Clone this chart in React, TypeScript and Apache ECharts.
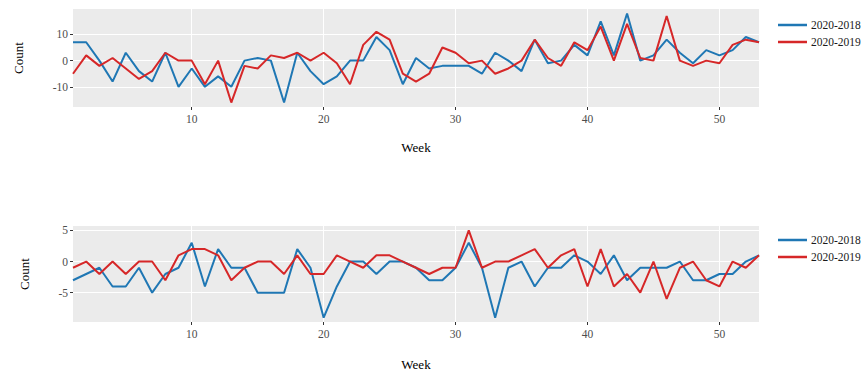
import React, { useEffect, useRef } from "react";
import * as echarts from "echarts";

const weeks: number[] = Array.from({ length: 53 }, (_, i) => i + 1);

const top2018: number[] = [7, 7, 0, -8, 3, -4, -8, 3, -10, -3, -10, -6, -10, 0, 1, 0, -16, 3, -4, -9, -6, 0, 0, 9, 4, -9, 1, -3, -2, -2, -2, -5, 3, 0, -4, 8, -1, 0, 6, 2, 15, 2, 18, 0, 2, 8, 3, -1, 4, 2, 4, 9, 7];
const top2019: number[] = [-5, 2, -2, 1, -3, -7, -4, 3, 0, 0, -9, 0, -16, -2, -3, 2, 1, 3, 0, 3, -1, -9, 6, 11, 8, -5, -8, -5, 5, 3, -1, 0, -5, -3, 0, 8, 1, -2, 7, 4, 13, 0, 14, 1, 0, 17, 0, -2, 0, -1, 6, 8, 7];

const bot2018: number[] = [-3, -2, -1, -4, -4, -1, -5, -2, -1, 3, -4, 2, -1, -1, -5, -5, -5, 2, -1, -9, -4, 0, 0, -2, 0, 0, -1, -3, -3, -1, 3, -1, -9, -1, 0, -4, -1, -1, 1, 0, -2, 1, -3, -1, -1, -1, 0, -3, -3, -2, -2, 0, 1];
const bot2019: number[] = [-1, 0, -2, 0, -2, 0, 0, -3, 1, 2, 2, 1, -3, -1, 0, 0, -2, 1, -2, -2, 1, 0, -1, 1, 1, 0, -1, -2, -1, -1, 5, -1, 0, 0, 1, 2, -1, 1, 2, -4, 2, -4, -2, -5, 0, -6, -1, 0, -3, -4, 0, -1, 1];

const xTicks: number[] = [10, 20, 30, 40, 50];
const topYTicks: number[] = [-10, 0, 10];
const botYTicks: number[] = [-5, 0, 5];
const seriesNames: string[] = ["2020-2018", "2020-2019"];

const BLUE = "#1f77b4";
const RED = "#d62728";
const FONT = "Liberation Serif";

function pairs(vals: number[]) {
  return weeks.map((w, i) => [w, vals[i]]);
}

export default function App() {
  const ref = useRef<HTMLDivElement>(null);
  useEffect(() => {
    document.body.style.margin = "0";
    const chart = echarts.init(ref.current!, null, { renderer: "svg" });
    const xAxisBase = (gridIndex: number, nameGap: number) => ({
      type: "value",
      gridIndex,
      min: 1,
      max: 53,
      name: "Week",
      nameLocation: "middle",
      nameGap,
      nameTextStyle: { fontFamily: FONT, fontSize: 13, color: "#000" },
      axisLine: { show: false, onZero: false },
      axisTick: { show: true, length: 3, lineStyle: { color: "#333" }, customValues: xTicks },
      axisLabel: { fontFamily: FONT, fontSize: 11.5, color: "#4d4d4d", margin: 6, customValues: xTicks },
      splitLine: { show: false },
    });
    const yAxisBase = (gridIndex: number, min: number, max: number, ticks: number[], nameGap: number) => ({
      type: "value",
      gridIndex,
      min,
      max,
      name: "Count",
      nameLocation: "middle",
      nameGap,
      nameRotate: 90,
      nameTextStyle: { fontFamily: FONT, fontSize: 13, color: "#000" },
      axisLine: { show: false, onZero: false },
      axisTick: { show: true, length: 3, lineStyle: { color: "#333" }, customValues: ticks },
      axisLabel: { fontFamily: FONT, fontSize: 11.5, color: "#4d4d4d", margin: 5, customValues: ticks },
      splitLine: { show: false },
    });
    const legendBase = (top: number) => ({
      orient: "vertical",
      left: 778,
      top,
      padding: 0,
      icon: "rect",
      itemWidth: 29,
      itemHeight: 2.5,
      itemGap: 5,
      textStyle: { fontFamily: FONT, fontSize: 11.5, color: "#1a1a1a", padding: [0, 0, 0, -1] },
      data: seriesNames,
    });
    const gridSeries = (idx: number, yTicks: number[]) => ({
      type: "line",
      name: "grid" + idx,
      xAxisIndex: idx,
      yAxisIndex: idx,
      data: [],
      silent: true,
      z: 1,
      markLine: {
        silent: true,
        z: 1,
        symbol: "none",
        label: { show: false },
        lineStyle: { color: "#ffffff", width: 1.1, type: "solid" },
        emphasis: { disabled: true },
        data: [
          ...xTicks.map((v) => ({ xAxis: v })),
          ...yTicks.map((v) => ({ yAxis: v })),
        ],
      },
    });
    const line = (name: string, vals: number[], color: string, idx: number) => ({
      type: "line",
      name,
      xAxisIndex: idx,
      yAxisIndex: idx,
      data: pairs(vals),
      showSymbol: false,
      symbol: "none",
      z: 3,
      lineStyle: { color, width: 2 },
      itemStyle: { color },
    });
    chart.setOption({
      animation: false,
      backgroundColor: "#ffffff",
      grid: [
        { left: 73, top: 9, width: 686, height: 98, show: true, backgroundColor: "#ebebeb", borderWidth: 0 },
        { left: 73, top: 226, width: 686, height: 96, show: true, backgroundColor: "#ebebeb", borderWidth: 0 },
      ],
      xAxis: [xAxisBase(0, 34), xAxisBase(1, 36)],
      yAxis: [
        yAxisBase(0, -17.7, 19.7, topYTicks, 48),
        yAxisBase(1, -9.7, 5.7, botYTicks, 42),
      ],
      legend: [legendBase(19), legendBase(234)],
      series: [
        gridSeries(0, topYTicks),
        gridSeries(1, botYTicks),
        line(seriesNames[0], top2018, BLUE, 0),
        line(seriesNames[1], top2019, RED, 0),
        line(seriesNames[0], bot2018, BLUE, 1),
        line(seriesNames[1], bot2019, RED, 1),
      ],
    });
    return () => chart.dispose();
  }, []);
  return <div ref={ref} style={{ width: 865, height: 373 }} />;
}
